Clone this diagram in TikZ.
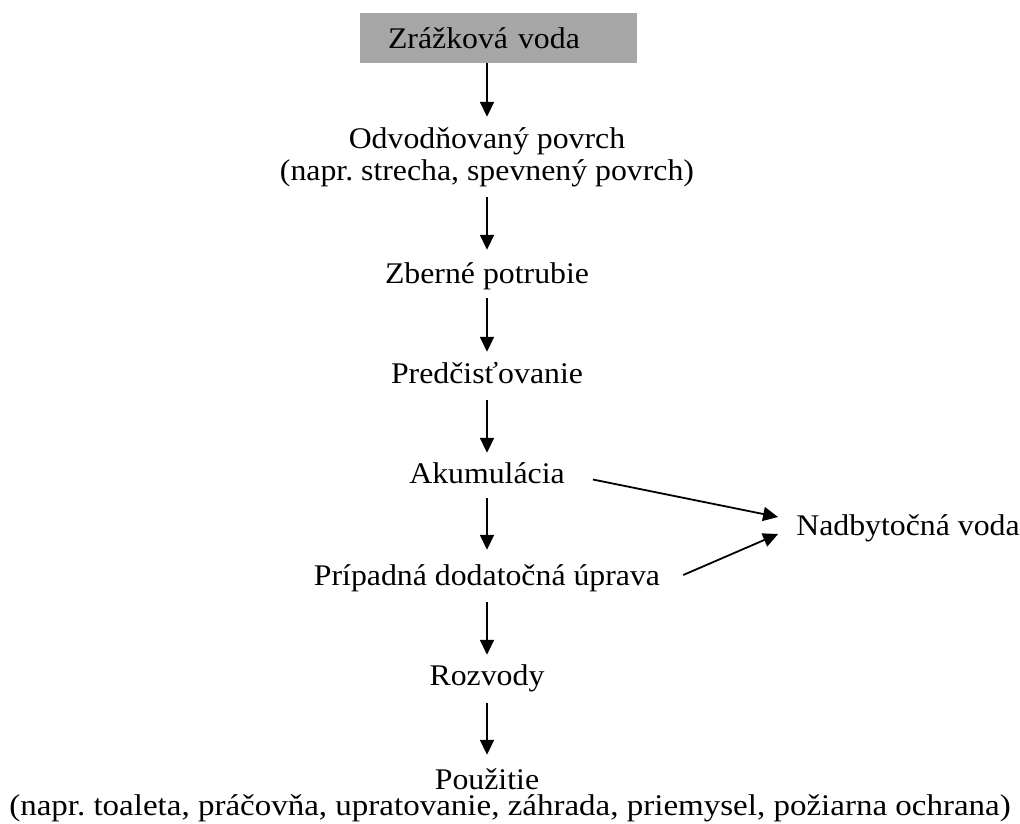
\documentclass[tikz,border=0pt]{standalone}
\usepackage{fontspec}
\setmainfont{Liberation Serif}[FakeStretch=1.06]
\newfontfamily\widefont{Liberation Serif}[FakeStretch=1.10]
\usetikzlibrary{arrows.meta}
\definecolor{boxgray}{RGB}{166,166,166}
\begin{document}
\frenchspacing
\begin{tikzpicture}[x=1pt,y=-1pt,
  lbl/.style={anchor=base, inner sep=0pt, text height=20pt, text depth=7pt, font=\fontsize{30}{34}\selectfont},
  arr/.style={line width=1.8pt, -{Triangle[length=15pt,width=14pt]}}]
\useasboundingbox (0,0) rectangle (1020,823);
\node[fill=boxgray, minimum width=277pt, minimum height=50pt, text width=221pt, inner xsep=28pt, inner ysep=0pt, align=left, font=\fontsize{30}{34}\selectfont] (rain) at (498.5,38) {Zrážková voda};
\node[lbl] (odv1) at (487,148) {Odvodňovaný povrch};
\node[lbl] (odv2) at (487,180) {(napr. strecha, spevnený povrch)};
\node[lbl] (zber) at (487,283) {Zberné potrubie};
\node[lbl] (pred) at (487,383) {Predčisťovanie};
\node[lbl] (akum) at (487,483) {Akumulácia};
\node[lbl] (prip) at (487,585) {Prípadná dodatočná úprava};
\node[lbl] (rozv) at (487,685) {Rozvody};
\node[lbl, text depth=3pt] (pouz1) at (487,789) {Použitie};
\node[lbl, text height=16pt, text depth=6pt, font=\widefont\fontsize{30}{34}\selectfont] (pouz2) at (510,815.5) {(napr. toaleta, práčovňa, upratovanie, záhrada, priemysel, požiarna ochrana)};
\node[lbl] (nad) at (908,535) {Nadbytočná voda};
\draw[arr] (rain.south -| odv1) -- ([yshift=11pt]odv1.north);
\draw[arr, shorten <=10pt, shorten >=13pt] (odv2.south) -- (zber.north);
\draw[arr, shorten <=8pt, shorten >=11pt] (zber.south) -- (pred.north);
\draw[arr, shorten <=10pt, shorten >=10pt] (pred.south) -- (akum.north);
\draw[arr, shorten <=8pt, shorten >=15pt] (akum.south) -- (prip.north);
\draw[arr, shorten <=10pt, shorten >=10pt] (prip.south) -- (rozv.north);
\draw[arr, shorten <=11pt, shorten >=14pt] (rozv.south) -- (pouz1.north);
\draw[arr] ([xshift=28pt,yshift=-3pt]akum.east) -- ([xshift=-18pt,yshift=11.5pt]nad.west);
\draw[arr] ([xshift=23pt,yshift=3.5pt]prip.east) -- ([xshift=-18pt,yshift=-5.5pt]nad.west);
\end{tikzpicture}
\end{document}
